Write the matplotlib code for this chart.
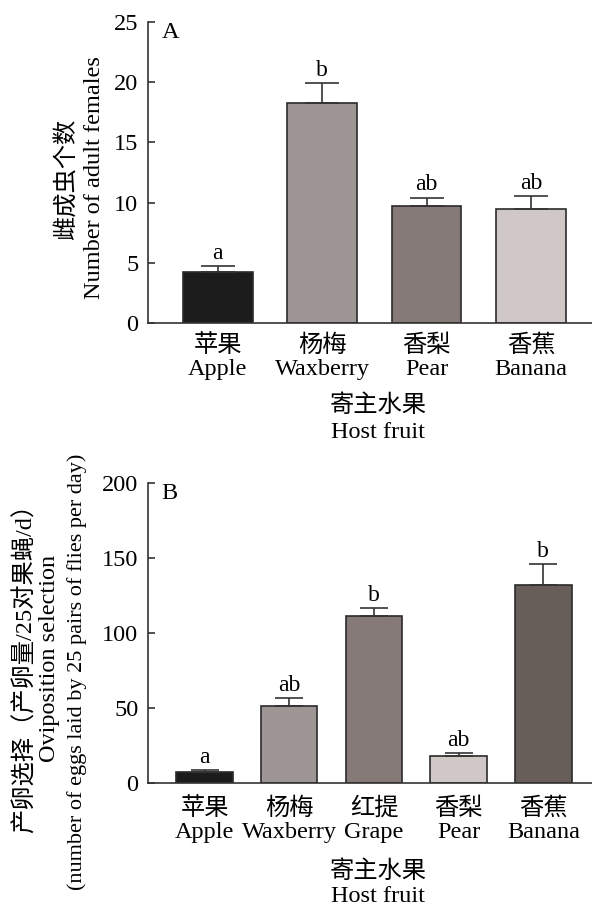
import numpy as np
import matplotlib
matplotlib.use('Agg')
import matplotlib.pyplot as plt

plt.rcParams['font.family'] = ['Liberation Serif', 'Noto Sans CJK SC']
plt.rcParams['axes.unicode_minus'] = False

# 数据 - 图A
frutas_a = ['苹果\nApple', '杨梅\nWaxberry', '香梨\nPear', '香蕉\nBanana']
media_a = [4.25, 18.25, 9.75, 9.5]
erro_a = [0.5, 1.7, 0.67, 1.05]
letras_a = ['a', 'b', 'ab', 'ab']
cores_a = ['#1c1c1c', '#9e9694', '#857a77', '#d0c8c6']

# 数据 - 图B
frutas_b = ['苹果\nApple', '杨梅\nWaxberry', '红提\nGrape', '香梨\nPear', '香蕉\nBanana']
media_b = [7.3, 51.7, 111.3, 18.0, 132.4]
erro_b = [1.3, 5.2, 5.3, 2.0, 14.0]
letras_b = ['a', 'ab', 'b', 'ab', 'b']
cores_b = ['#1c1c1c', '#9e9694', '#857a77', '#d0c8c6', '#675e59']

W, H = 592, 910
fs = 17.5
fig = plt.figure(figsize=(W / 100, H / 100), dpi=100)

def px(x, y):
    # pixel -> fração da figura
    return x / W, 1 - y / H

cor_eixo = '#333333'

def painel(ax, rotulos, medias, erros, letras, cores, ymax, passo, xmax, capsize, marca, pad_x):
    x = np.arange(len(rotulos))
    ax.bar(x, medias, width=0.667, color=cores, edgecolor='#2b2b2b', linewidth=1.2, zorder=2)
    ax.errorbar(x, medias, yerr=[np.zeros(len(erros)), erros], fmt='none',
                ecolor=cor_eixo, elinewidth=1.2, capsize=capsize, capthick=1.2, zorder=3)
    for xi, m, e, l in zip(x, medias, erros, letras):
        ax.annotate(l, (xi, m + e), xytext=(0, 1.5), textcoords='offset points',
                    ha='center', va='bottom', fontsize=17)
    ax.set_xlim(-0.668, xmax)
    ax.set_ylim(0, ymax)
    ax.set_yticks(np.arange(0, ymax + passo / 2, passo))
    ax.set_xticks(x)
    ax.set_xticklabels(rotulos, linespacing=1.15)
    for s in ['top', 'right']:
        ax.spines[s].set_visible(False)
    for s in ['left', 'bottom']:
        ax.spines[s].set_color(cor_eixo)
        ax.spines[s].set_linewidth(1.2)
    ax.tick_params(axis='y', direction='in', length=5, width=1.2, color=cor_eixo, labelsize=fs, pad=7)
    ax.tick_params(axis='x', direction='in', length=5, width=1.2, color=cor_eixo, labelsize=fs, pad=pad_x)
    ax.text(0.03, 1.0, marca, transform=ax.transAxes, fontsize=fs, ha='left', va='top')

# 图A
l, b = px(148, 323)
_, t = px(0, 22)
axA = fig.add_axes([l, b, 1 - l, t - b])
painel(axA, frutas_a, media_a, erro_a, letras_a, cores_a, 25, 5, 3.585, 12.5, 'A', 8)

# 图B
l, b = px(148, 783.3)
_, t = px(0, 483.3)
axB = fig.add_axes([l, b, 1 - l, t - b])
painel(axB, frutas_b, media_b, erro_b, letras_b, cores_b, 200, 50, 4.575, 10, 'B', 10)

def texto(xp, yp, s, rot=0, tam=fs):
    x, y = px(xp, yp)
    fig.text(x, y, s, rotation=rot, ha='center', va='center', fontsize=tam)

# 坐标轴标题 A
texto(67, 178, '雌成虫个数', 90)
texto(94, 178, 'Number of adult females', 90)
texto(378, 406, '寄主水果')
texto(378, 432, 'Host fruit')

# 坐标轴标题 B
texto(25, 662, '产卵选择（产卵量/25对果蝇/d）', 90, 17.5)
texto(50, 658, 'Oviposition selection', 90)
texto(77, 672, '(number of eggs laid by 25 pairs of flies per day)', 90, 16)
texto(378, 872, '寄主水果')
texto(378, 897, 'Host fruit')

fig.savefig('out.png', dpi=100)
